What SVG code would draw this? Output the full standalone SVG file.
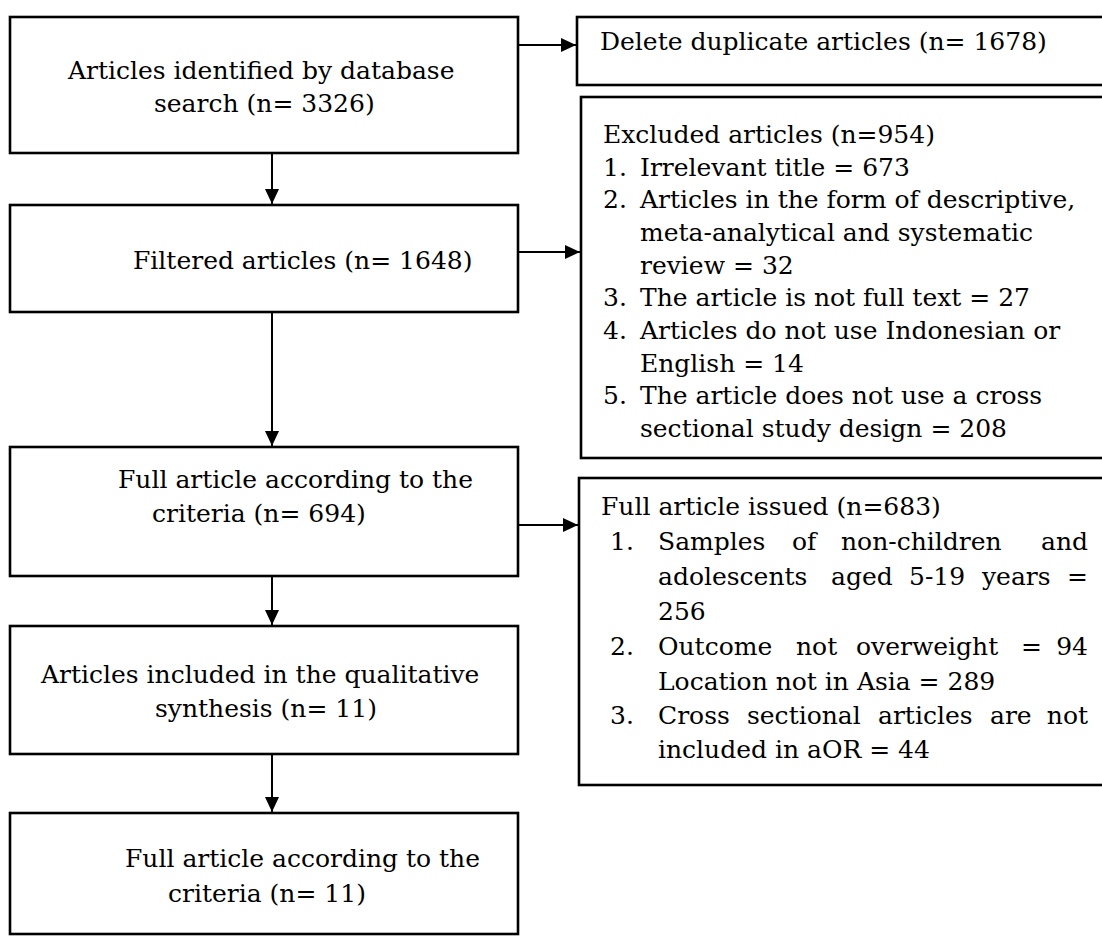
<svg xmlns="http://www.w3.org/2000/svg" width="1102" height="936" viewBox="0 0 1102 936">
<defs>
<marker id="ah" markerWidth="15" markerHeight="14" refX="15" refY="7" orient="auto" markerUnits="userSpaceOnUse" viewBox="0 0 15 14">
<path d="M0,0 L15,7 L0,14 z" fill="#000"/>
</marker>
<style>
.box{fill:#fff;stroke:#000;stroke-width:2.6}
.t{font-family:"DejaVu Serif","Liberation Serif",serif;font-size:25px;fill:#000}
.c{stroke:#000;stroke-width:2;fill:none;marker-end:url(#ah)}
</style>
</defs>
<rect width="1102" height="936" fill="#fff"/>
<g id="n1">
<rect class="box" x="10" y="17" width="508" height="136"/>
<text class="t" x="68" y="79">Articles identified by database</text>
<text class="t" x="154" y="112">search (n= 3326)</text>
</g>
<g id="n2">
<rect class="box" x="577" y="17" width="540" height="68"/>
<text class="t" x="600" y="50">Delete duplicate articles (n= 1678)</text>
</g>
<g id="n3">
<rect class="box" x="10" y="205" width="508" height="107"/>
<text class="t" x="133" y="269">Filtered articles (n= 1648)</text>
</g>
<g id="n4">
<rect class="box" x="581" y="97" width="540" height="361"/>
<text class="t" x="603" y="143">Excluded articles (n=954)</text>
<text class="t" x="603" y="176">1.</text><text class="t" x="640" y="176">Irrelevant title = 673</text>
<text class="t" x="603" y="208">2.</text><text class="t" x="640" y="208">Articles in the form of descriptive,</text>
<text class="t" x="640" y="241">meta-analytical and systematic</text>
<text class="t" x="640" y="274">review = 32</text>
<text class="t" x="603" y="306">3.</text><text class="t" x="640" y="306">The article is not full text = 27</text>
<text class="t" x="603" y="339">4.</text><text class="t" x="640" y="339">Articles do not use Indonesian or</text>
<text class="t" x="640" y="372">English = 14</text>
<text class="t" x="603" y="404">5.</text><text class="t" x="640" y="404">The article does not use a cross</text>
<text class="t" x="640" y="437">sectional study design = 208</text>
</g>
<g id="n5">
<rect class="box" x="10" y="447" width="508" height="129"/>
<text class="t" x="118" y="488">Full article according to the</text>
<text class="t" x="152" y="522">criteria (n= 694)</text>
</g>
<g id="n6">
<rect class="box" x="579" y="478" width="540" height="307"/>
<text class="t" x="601" y="515">Full article issued (n=683)</text>
<text class="t" x="610" y="550">1.</text>
<text class="t" y="550"><tspan x="658">Samples</tspan><tspan x="792">of</tspan><tspan x="841">non-children</tspan><tspan x="1088" text-anchor="end">and</tspan></text>
<text class="t" y="585"><tspan x="658">adolescents</tspan><tspan x="831">aged</tspan><tspan x="909">5-19</tspan><tspan x="982">years</tspan><tspan x="1088" text-anchor="end">=</tspan></text>
<text class="t" x="658" y="620">256</text>
<text class="t" x="610" y="655">2.</text>
<text class="t" y="655"><tspan x="658">Outcome</tspan><tspan x="796">not</tspan><tspan x="856">overweight</tspan><tspan x="1021">=</tspan><tspan x="1088" text-anchor="end">94</tspan></text>
<text class="t" x="658" y="690">Location not in Asia = 289</text>
<text class="t" x="610" y="724">3.</text>
<text class="t" y="724"><tspan x="658">Cross</tspan><tspan x="747">sectional</tspan><tspan x="878">articles</tspan><tspan x="990">are</tspan><tspan x="1088" text-anchor="end">not</tspan></text>
<text class="t" x="658" y="758">included in aOR = 44</text>
</g>
<g id="n7">
<rect class="box" x="10" y="626" width="508" height="128"/>
<text class="t" x="41" y="683">Articles included in the qualitative</text>
<text class="t" x="155" y="717">synthesis (n= 11)</text>
</g>
<g id="n8">
<rect class="box" x="10" y="813" width="508" height="121"/>
<text class="t" x="125" y="867">Full article according to the</text>
<text class="t" x="168" y="902">criteria (n= 11)</text>
</g>
<g id="connectors">
<line class="c" x1="519" y1="45" x2="576" y2="45"/>
<line class="c" x1="272" y1="154" x2="272" y2="204"/>
<line class="c" x1="519" y1="252" x2="580" y2="252"/>
<line class="c" x1="272" y1="313" x2="272" y2="446"/>
<line class="c" x1="519" y1="525" x2="578" y2="525"/>
<line class="c" x1="272" y1="577" x2="272" y2="625"/>
<line class="c" x1="272" y1="755" x2="272" y2="812"/>
</g>
</svg>
